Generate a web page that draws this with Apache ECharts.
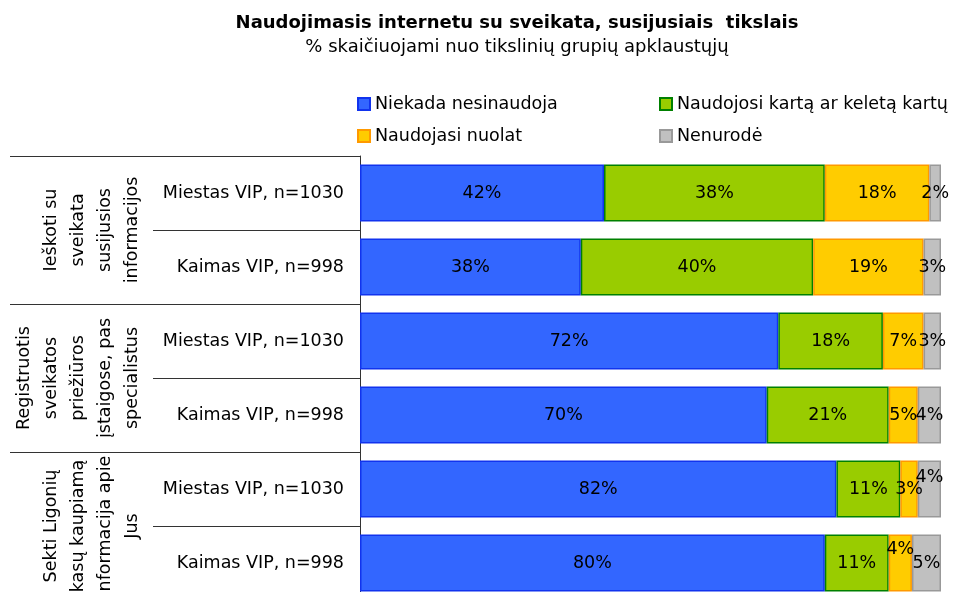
<!DOCTYPE html>
<html>
<head>
<meta charset="utf-8">
<script src="https://cdn.jsdelivr.net/npm/echarts@6/dist/echarts.min.js"></script>
<style>
  html, body { margin: 0; padding: 0; background: #fff; }
  #chart { width: 955px; height: 592px; }
</style>
</head>
<body>
<div id="chart"></div>
<script>
// Row labels (top to bottom) and the three purpose groups they belong to
const rowLabels = [
  'Miestas VIP, n=1030', 'Kaimas VIP, n=998',
  'Miestas VIP, n=1030', 'Kaimas VIP, n=998',
  'Miestas VIP, n=1030', 'Kaimas VIP, n=998'
];
const groupLabels = [
  'Ieškoti su\nsveikata\nsusijusios\ninformacijos',
  'Registruotis\nsveikatos\npriežiūros\nįstaigose, pas\nspecialistus',
  'Sekti Ligonių\nkasų kaupiamą\ninformacija apie\nJus'
];
const seriesNames = [
  'Niekada nesinaudoja',
  'Naudojosi kartą ar keletą kartų',
  'Naudojasi nuolat',
  'Nenurodė'
];

// Shares in percent, one value per row
const never    = [42, 38, 72, 70, 82, 80];
const once     = [38, 40, 18, 21, 11, 11];
const constant = [18, 19, 7, 5, 3, 4];
const noAnswer = [2, 3, 3, 4, 4, 5];

const fills   = ['#3366FF', '#99CC00', '#FFCC00', '#C0C0C0'];
const borders = ['#1133EE', '#008000', '#FF9900', '#999999'];

// A few small segments have their labels lifted so they don't collide
const labelLift = { '3-4': -12, '2-5': -14 };

const valueSets = [never, once, constant, noAnswer];
const FONT = 'DejaVu Sans';
const FS = 17.5;

const series = valueSets.map((vals, s) => ({
  name: seriesNames[s],
  type: 'bar',
  stack: 'total',
  barWidth: 57,
  itemStyle: { color: fills[s], borderColor: borders[s], borderWidth: 1.5 },
  label: {
    show: true,
    position: 'inside',
    formatter: '{c}%',
    color: '#000',
    fontFamily: FONT,
    fontSize: FS
  },
  emphasis: { disabled: true },
  data: vals.map((v, i) => {
    const lift = labelLift[s + '-' + i];
    return lift ? { value: v, label: { offset: [0, lift] } } : v;
  })
}));

const legendBase = {
  orient: 'vertical',
  top: 90,
  itemGap: 14,
  itemWidth: 12, itemHeight: 12,
  icon: 'rect',
  selectedMode: false,
  textStyle: { fontFamily: FONT, fontSize: FS, color: '#000' }
};

const chart = echarts.init(document.getElementById('chart'), null, { renderer: 'canvas' });
chart.setOption({
  animation: false,
  title: {
    text: 'Naudojimasis internetu su sveikata, susijusiais  tikslais',
    subtext: '% skaičiuojami nuo tikslinių grupių apklaustųjų',
    left: 512,
    textAlign: 'center',
    top: 9,
    itemGap: 6,
    textStyle: { fontFamily: FONT, fontSize: 18, fontWeight: 'bold', color: '#000' },
    subtextStyle: { fontFamily: FONT, fontSize: 18, color: '#000' }
  },
  legend: [
    Object.assign({ data: [seriesNames[0], seriesNames[2]], left: 352 }, legendBase),
    Object.assign({ data: [seriesNames[1], seriesNames[3]], left: 654 }, legendBase)
  ],
  grid: {
    left: 360, right: 14, top: 156, bottom: -8,
    containLabel: false,
    outerBoundsMode: 'none'
  },
  xAxis: {
    type: 'value',
    min: 0, max: 100,
    show: false
  },
  yAxis: [
    {
      type: 'category',
      inverse: true,
      data: rowLabels,
      position: 'left',
      axisLine: { show: true, lineStyle: { color: '#333', width: 1 } },
      axisTick: { show: true, length: 207, lineStyle: { color: '#333', width: 1 } },
      axisLabel: {
        margin: 16,
        fontFamily: FONT, fontSize: FS, color: '#000',
        interval: 0
      },
      splitLine: { show: false }
    },
    {
      type: 'category',
      inverse: true,
      data: groupLabels,
      position: 'left',
      offset: 0,
      axisLine: { show: false },
      axisTick: { show: true, length: 350, lineStyle: { color: '#333', width: 1 } },
      axisLabel: {
        rotate: 90,
        margin: 214,
        interval: 0,
        align: 'center',
        fontFamily: FONT, fontSize: FS, color: '#000',
        lineHeight: 27
      },
      splitLine: { show: false }
    }
  ],
  series: series
});
</script>
</body>
</html>
